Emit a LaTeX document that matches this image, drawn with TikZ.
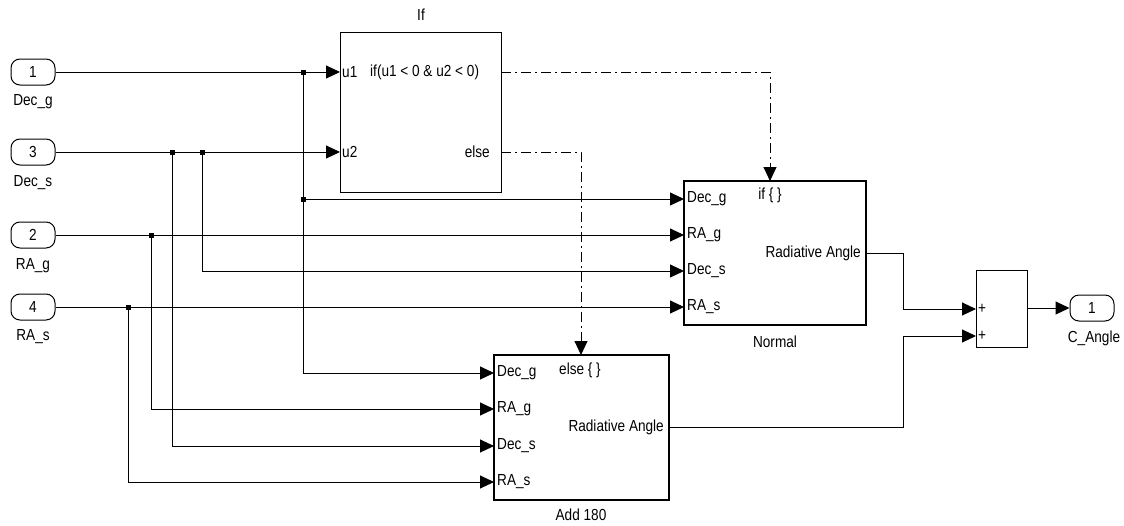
\documentclass[tikz,border=0pt]{standalone}
\usepackage{fontspec}
\setmainfont{Liberation Sans}[FakeStretch=0.85]
\usepackage{tikz}
\usetikzlibrary{arrows.meta, positioning}

\begin{document}
\begin{tikzpicture}
	[x=1pt, y=-1pt,
	 font=\fontsize{16}{18}\selectfont,
	 sig/.style={line width=1pt, -{Triangle[length=14pt, width=13pt]}},
	 trig/.style={sig, dash pattern=on 10pt off 4pt on 2pt off 4pt},
	 port/.style={draw, line width=1pt, rounded corners=9pt, minimum width=44pt, minimum height=26pt, inner sep=0pt},
	 thinblk/.style={draw, line width=1pt, inner sep=0pt},
	 subsys/.style={draw, line width=2.6pt, inner sep=0pt},
	 plabel/.style={inner sep=1pt}]

    \useasboundingbox (0,0) rectangle (1124,525);

    % inports
	\node[port] (in1) at (33,72) {1};
	\node[port] (in3) at (33,152) {3};
	\node[port] (in2) at (33,235) {2};
	\node[port] (in4) at (33,307) {4};
	\node (l1) at (33,102) {Dec\_g};
	\node (l3) at (33,183) {Dec\_s};
	\node (l2) at (33,266) {RA\_g};
	\node (l4) at (33,337) {RA\_s};

    % If block
	\node[thinblk, minimum width=161pt, minimum height=160pt] (ifb) at (420.5,112) {};
	\node (ifname) at (421,15) {If};
	\coordinate (ifu1) at (340,72);
	\coordinate (ifu2) at (340,152);
	\coordinate (ifo1) at (501,72);
	\coordinate (ifo2) at (501,152);
	\node[plabel, anchor=west] (tu1) at (341,72) {u1};
	\node[plabel, anchor=west] (tu2) at (341,152) {u2};
	\node[plabel, anchor=west] (tcond) at (369,72) {if(u1 < 0 \& u2 < 0)};
	\node[plabel, anchor=east] (telse) at (491,152) {else};

    % Normal subsystem
	\node[subsys, minimum width=182pt, minimum height=144pt] (normal) at (775,253) {};
	\node (nname) at (775,342) {Normal};
	\coordinate (nDecg) at (684,199);
	\coordinate (nRAg) at (684,235);
	\coordinate (nDecs) at (684,271);
	\coordinate (nRAs) at (684,307);
	\coordinate (ntrig) at (770,181);
	\coordinate (nout) at (866,253);
	\foreach \p/\t in {nDecg/Dec\_g, nRAg/RA\_g, nDecs/Dec\_s, nRAs/RA\_s}
	    \node[plabel, anchor=west] at ([xshift=2pt]\p) {\t};
	\node[plabel] (nif) at (770,195) {if \{ \}};
	\node[plabel, anchor=east] (nra) at (862,253) {Radiative Angle};

    % Add 180 subsystem
	\node[subsys, minimum width=175pt, minimum height=145pt] (add) at (581.5,427.5) {};
	\node (aname) at (581,515) {Add 180};
	\coordinate (aDecg) at (494,373);
	\coordinate (aRAg) at (494,409);
	\coordinate (aDecs) at (494,446);
	\coordinate (aRAs) at (494,482);
	\coordinate (atrig) at (581,355);
	\coordinate (aout) at (669,427);
	\foreach \p/\t in {aDecg/Dec\_g, aRAg/RA\_g, aDecs/Dec\_s, aRAs/RA\_s}
	    \node[plabel, anchor=west] at ([xshift=2pt]\p) {\t};
	\node[plabel] (aelse) at (580,370) {else \{ \}};
	\node[plabel, anchor=east] (ara) at (665,427) {Radiative Angle};

    % sum and outport
	\node[thinblk, minimum width=51pt, minimum height=77pt] (sum) at (1001.5,308.5) {};
	\coordinate (s1) at (976,309);
	\coordinate (s2) at (976,336);
	\coordinate (sout) at (1027,308);
	\node[plabel, anchor=west] (p1) at (977,309) {+};
	\node[plabel, anchor=west] (p2) at (977,336) {+};
	\node[port] (out1) at (1092,308) {1};
	\node (lout) at (1094,338) {C\_Angle};

    % branch points
	\coordinate (j1) at (303,72);
	\coordinate (j1b) at (303,199);
	\coordinate (j3) at (172,152);
	\coordinate (j4) at (202,152);
	\coordinate (j5) at (151,235);
	\coordinate (j6) at (128,307);

	\draw[sig] (in1) -- (ifu1);
	\draw[sig] (in3) -- (ifu2);
	\draw[sig] (in2) -- (nRAg);
	\draw[sig] (in4) -- (nRAs);
	\draw[sig] (j1b) -- (nDecg);
	\draw[sig] (j1) |- (aDecg);
	\draw[sig] (j4) |- (nDecs);
	\draw[sig] (j3) |- (aDecs);
	\draw[sig] (j5) |- (aRAg);
	\draw[sig] (j6) |- (aRAs);
	\draw[sig] (nout) -- ++(37,0) |- (s1);
	\draw[sig] (aout) -- ++(234,0) |- (s2);
	\draw[sig] (sout) -- (out1);

	\draw[trig] (ifo1) -| (ntrig);
	\draw[trig] (ifo2) -| (atrig);

	\foreach \p in {j1, j1b, j3, j4, j5, j6}
	    \fill (\p) ++(-2.5,-2.5) rectangle ++(5,5);
\end{tikzpicture}
\end{document}
